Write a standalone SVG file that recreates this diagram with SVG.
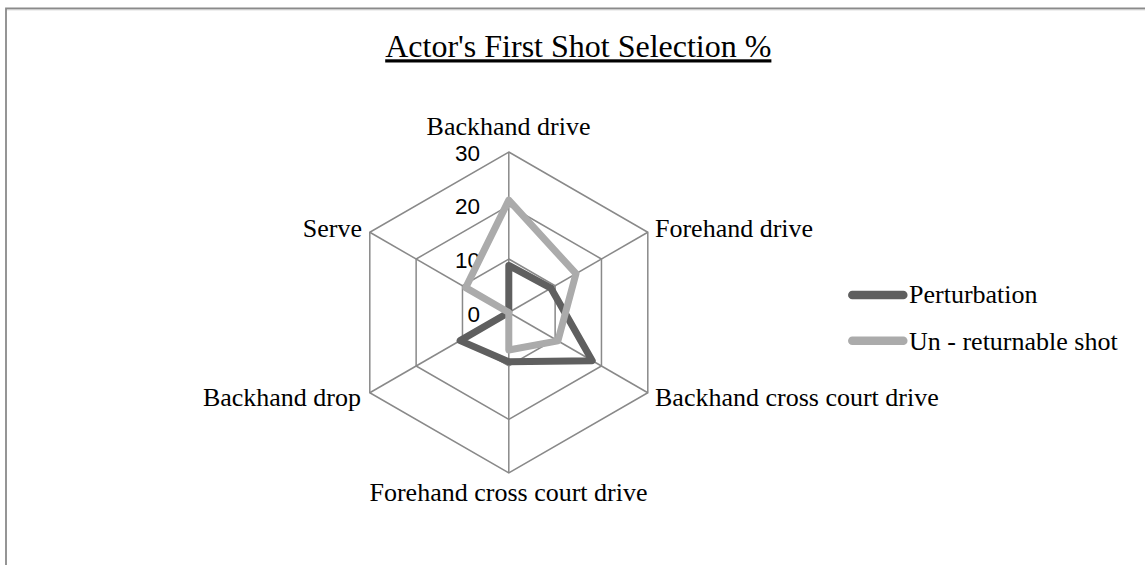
<svg xmlns="http://www.w3.org/2000/svg" width="1145" height="565" viewBox="0 0 1145 565">
  <style>
    .grid { fill: none; stroke: #898989; stroke-width: 1.5; }
    .cat { font-family: "Liberation Serif", "Times New Roman", serif; font-size: 26px; fill: #000; }
    .num { font-family: "Liberation Sans", Arial, sans-serif; font-size: 22.5px; fill: #000; text-anchor: end; }
    .title { font-family: "Liberation Serif", "Times New Roman", serif; font-size: 32px; fill: #000; text-anchor: middle; text-decoration: underline; }
    .s1 { fill: none; stroke: #5f5f5f; stroke-width: 7; stroke-linejoin: round; }
    .s2 { fill: none; stroke: #ababab; stroke-width: 7; stroke-linejoin: round; }
    .leg1 { stroke: #5f5f5f; stroke-width: 8.5; stroke-linecap: round; }
    .leg2 { stroke: #ababab; stroke-width: 8.5; stroke-linecap: round; }
  </style>
  <rect x="0" y="0" width="1145" height="565" fill="#ffffff"/>
  <path d="M6 566 V8.5 H1146" fill="none" stroke="#8a8a8a" stroke-width="1.8"/>
  <line x1="7" y1="10.3" x2="1146" y2="10.3" stroke="#ececec" stroke-width="1"/>

  <g id="title">
    <text class="title" x="578.3" y="57.3">Actor's First Shot Selection %</text>
  </g>

  <g id="grid">
    <polygon class="grid" points="508.8,152 647.8,232.25 647.8,392.75 508.8,473 369.8,392.75 369.8,232.25"/>
    <polygon class="grid" points="508.8,205.5 601.46,259 601.46,366 508.8,419.5 416.14,366 416.14,259"/>
    <polygon class="grid" points="508.8,259 555.13,285.75 555.13,339.25 508.8,366 462.47,339.25 462.47,285.75"/>
    <line class="grid" x1="508.8" y1="312.5" x2="508.8" y2="152"/>
    <line class="grid" x1="508.8" y1="312.5" x2="647.8" y2="232.25"/>
    <line class="grid" x1="508.8" y1="312.5" x2="647.8" y2="392.75"/>
    <line class="grid" x1="508.8" y1="312.5" x2="508.8" y2="473"/>
    <line class="grid" x1="508.8" y1="312.5" x2="369.8" y2="392.75"/>
    <line class="grid" x1="508.8" y1="312.5" x2="369.8" y2="232.25"/>
  </g>

  <g id="axis-labels">
    <text class="num" x="480" y="161">30</text>
    <text class="num" x="480" y="213.5">20</text>
    <text class="num" x="480" y="268">10</text>
    <text class="num" x="480" y="321.7">0</text>
  </g>

  <g id="categories">
    <text class="cat" x="508.5" y="134.5" text-anchor="middle">Backhand drive</text>
    <text class="cat" x="655" y="237">Forehand drive</text>
    <text class="cat" x="655" y="406">Backhand cross court drive</text>
    <text class="cat" x="508.5" y="501" text-anchor="middle">Forehand cross court drive</text>
    <text class="cat" x="361" y="406" text-anchor="end">Backhand drop</text>
    <text class="cat" x="362" y="237" text-anchor="end">Serve</text>
  </g>

  <g id="series">
    <polygon id="perturbation" class="s1" points="508.8,265.4 551.0,288.2 592.2,360.65 508.8,361.7 460.1,340.6 508.8,312.5"/>
    <polygon id="unreturnable" class="s2" points="508.8,200.15 576.0,273.7 557.9,340.9 508.8,349.95 508.8,312.5 465.7,287.6"/>
  </g>

  <g id="legend">
    <line class="leg1" x1="852.3" y1="295" x2="903.3" y2="295"/>
    <text class="cat" x="909" y="303.3">Perturbation</text>
    <line class="leg2" x1="852.3" y1="340.7" x2="903.3" y2="340.7"/>
    <text class="cat" x="909" y="350">Un - returnable shot</text>
  </g>
</svg>
